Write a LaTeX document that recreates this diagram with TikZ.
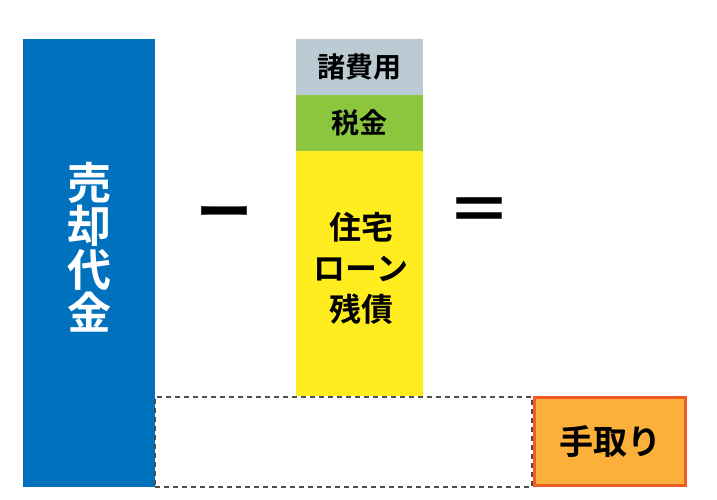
\documentclass[tikz,border=0pt]{standalone}
\usepackage{fontspec}
\usepackage{tikz}
\setmainfont{Noto Sans CJK JP}[BoldFont={Noto Sans CJK JP Bold}]
\newcommand\tightlines{\lineskiplimit=-100pt\relax}
\definecolor{baikyaku}{HTML}{0071BC}
\definecolor{shohiyo}{HTML}{BCCAD3}
\definecolor{zeikin}{HTML}{8CC63F}
\definecolor{zansai}{HTML}{FFED1F}
\definecolor{tedori}{HTML}{FBB03B}
\definecolor{tedoriline}{HTML}{F15A24}
\definecolor{dashline}{HTML}{4D4D4D}
\tikzset{
  block/.style={inner sep=0pt,outer sep=0pt,align=center},
  sign/.style={inner sep=0pt,outer sep=0pt}
}

\begin{document}
\begin{tikzpicture}[x=1pt,y=-1pt]
          \useasboundingbox (0,0) rectangle (717,500);
          \node[block,fill=baikyaku,minimum width=132pt,minimum height=448pt] (sale) at (89,263) {};
          \node[block,text=white,font=\bfseries\fontsize{44}{43.5}\selectfont\tightlines] (saletext) at (89,247) {売\\却\\代\\金};
          \node[block,fill=shohiyo,minimum width=127pt,minimum height=56pt,font=\bfseries\fontsize{28}{30}\selectfont] (fees) at (359.5,67) {諸費用};
          \node[block,fill=zeikin,minimum width=127pt,minimum height=56pt,font=\bfseries\fontsize{28}{30}\selectfont] (tax) at (359.5,123) {税金};
          \node[block,fill=zansai,minimum width=127pt,minimum height=245pt] (loan) at (359.5,273.5) {};
          \node[block,font=\bfseries\fontsize{32}{41}\selectfont\tightlines] (loantext) at (361,268) {住宅\\ローン\\残債};
          \node[sign,font=\bfseries\fontsize{56}{56}\selectfont] (minus) at (224,220) {ー};
          \node[sign,font=\bfseries\fontsize{64}{64}\selectfont] (equal) at (479,215.5) {＝};
          \node[draw=dashline,line width=1.5pt,dash pattern=on 5pt off 4pt,inner sep=0pt,minimum width=377pt,minimum height=90pt] (rest) at (343.5,442) {};
          \node[block,draw=tedoriline,line width=3pt,fill=tedori,minimum width=151pt,minimum height=88pt,font=\bfseries\fontsize{34}{36}\selectfont] (net) at (610,441.5) {手取り};
        \end{tikzpicture}
\end{document}
